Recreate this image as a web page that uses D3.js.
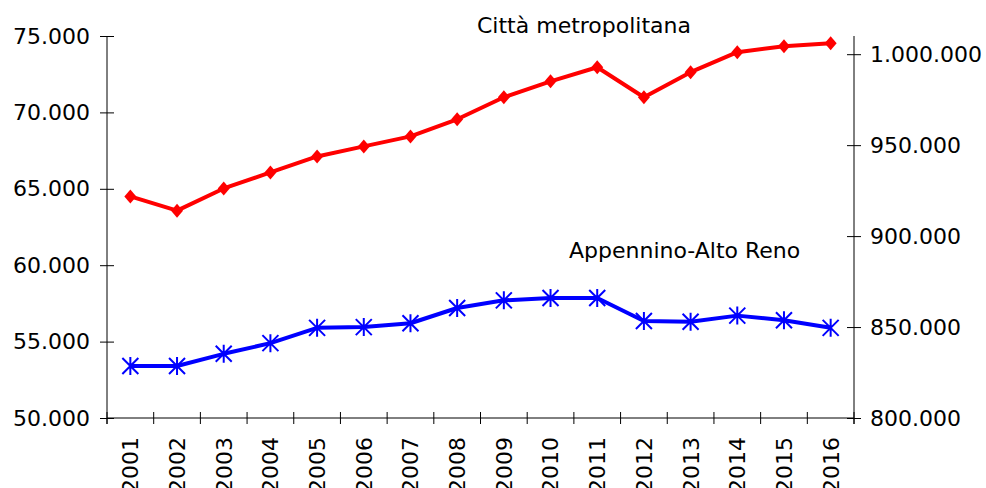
<!DOCTYPE html>
<html>
<head>
<meta charset="utf-8">
<script src="https://cdn.jsdelivr.net/npm/d3@7"></script>
<style>
  body { margin: 0; background: #fff; }
  svg { display: block; }
  text { font-family: "DejaVu Sans", Verdana, sans-serif; font-size: 22px; fill: #000; }
  .axis path, .axis line { stroke: #000; }
</style>
</head>
<body>
<main></main>
<script>
const years = ["2001","2002","2003","2004","2005","2006","2007","2008","2009","2010","2011","2012","2013","2014","2015","2016"]
// Città metropolitana (right axis)
const cittaMetro = [921800, 914000, 926200, 935000, 943800, 949300, 954800, 964200, 976300, 985100, 992800, 976300, 990100, 1001100, 1004400, 1006000]
// Appennino-Alto Reno (left axis)
const appennino = [53400, 53400, 54200, 54900, 55900, 55950, 56200, 57200, 57700, 57850, 57850, 56350, 56300, 56700, 56400, 55900]
const leftTicks = [50000, 55000, 60000, 65000, 70000, 75000]
const rightTicks = [800000, 850000, 900000, 950000, 1000000]

const w = 986, h = 488
const mLeft = 107, mRight = 854, mTop = 36, mBottom = 418

const fmt = v => d3.format(",")(v).replace(/,/g, ".") // italian thousands separator

const svg = d3.select("main").append("svg").attr("width", w).attr("height", h)

const x = d3.scaleBand().domain(years).range([mLeft, mRight]).padding(0)
const yL = d3.scaleLinear().domain([50000, 75000]).range([mBottom, mTop])
const yR = d3.scaleLinear().domain([800000, 1010000]).range([mBottom, mTop])

// left axis
svg.append("g").attr("class", "axis").attr("transform", `translate(${mLeft},0)`)
  .call(d3.axisLeft(yL).tickValues(leftTicks).tickFormat(fmt).tickSizeInner(7).tickSizeOuter(0).tickPadding(10))
  .call(g => g.selectAll(".tick line").attr("x2", 7).attr("x1", -7))
  .call(g => g.select(".domain").attr("d", `M0,${mTop}V${mBottom + 6}`))

// right axis
svg.append("g").attr("class", "axis").attr("transform", `translate(${mRight},0)`)
  .call(d3.axisRight(yR).tickValues(rightTicks).tickFormat(fmt).tickSizeInner(7).tickSizeOuter(0).tickPadding(9))
  .call(g => g.selectAll(".tick line").attr("x1", -7).attr("x2", 7))
  .call(g => g.select(".domain").attr("d", `M0,${mTop}V${mBottom + 6}`))

// bottom axis: labels centred on bands, ticks between bands
svg.append("g").attr("class", "axis").attr("transform", `translate(0,${mBottom})`)
  .call(d3.axisBottom(x).tickSize(0).tickPadding(0))
  .call(g => g.select(".domain").attr("d", `M${mLeft},0H${mRight}`))
  .call(g => g.selectAll(".tick text")
    .attr("transform", "rotate(-90)")
    .attr("text-anchor", "end")
    .attr("x", -19).attr("y", 0).attr("dy", "0.36em"))

svg.append("g")
  .selectAll("line")
  .data(years.map(d => x(d)).concat([x.range()[1]]))
  .enter().append("line")
  .attr("x1", d => d).attr("x2", d => d)
  .attr("y1", mBottom - 6).attr("y2", mBottom + 6)
  .attr("stroke", "#000")

const cx = d => x(d) + x.bandwidth() / 2

// red line
svg.append("path")
  .datum(cittaMetro)
  .attr("fill", "none").attr("stroke", "#ff0000").attr("stroke-width", 4)
  .attr("stroke-linejoin", "round")
  .attr("d", d3.line().x((d, i) => cx(years[i])).y(d => yR(d)))

svg.append("g").selectAll("path")
  .data(cittaMetro)
  .enter().append("path")
  .attr("transform", (d, i) => `translate(${cx(years[i])},${yR(d)})`)
  .attr("d", "M0,-7L6,0L0,7L-6,0Z")
  .attr("fill", "#ff0000")

// blue line
svg.append("path")
  .datum(appennino)
  .attr("fill", "none").attr("stroke", "#0000ff").attr("stroke-width", 4)
  .attr("stroke-linejoin", "round")
  .attr("d", d3.line().x((d, i) => cx(years[i])).y(d => yL(d)))

svg.append("g").selectAll("path")
  .data(appennino)
  .enter().append("path")
  .attr("transform", (d, i) => `translate(${cx(years[i])},${yL(d)})`)
  .attr("d", "M-8,-8L8,8M-8,8L8,-8M0,-9V9")
  .attr("stroke", "#0000ff").attr("stroke-width", 2).attr("fill", "none")

// series labels
svg.append("text").attr("x", 477).attr("y", 33).text("Città metropolitana")
svg.append("text").attr("x", 569).attr("y", 258).text("Appennino-Alto Reno")
</script>
</body>
</html>
